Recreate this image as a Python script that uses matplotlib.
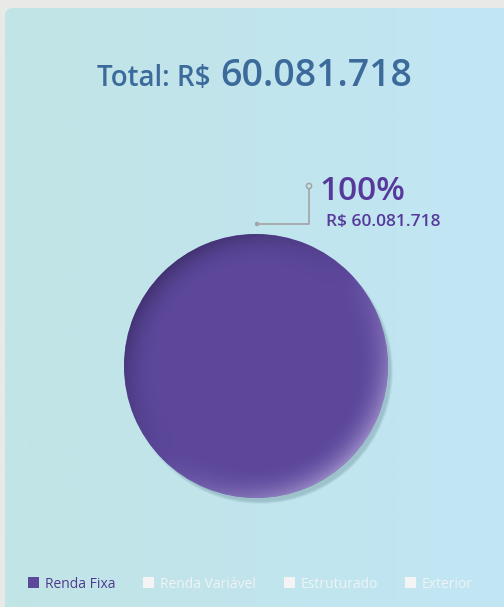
import numpy as np
import matplotlib
matplotlib.use('Agg')
from matplotlib import pyplot as plt
from matplotlib.patches import FancyBboxPatch, Circle, Rectangle

# -------------------------------
# Data
# -------------------------------
categories = ['Renda Fixa', 'Renda Variável', 'Estruturado', 'Exterior']
values = [60081718, 0, 0, 0]
total_label = '60.081.718'
cat_colors = ['#5c479b', '#f4f4f4', '#f4f4f4', '#f4f4f4']
legend_text_colors = ['#4f3a8f', '#eef3f5', '#eef3f5', '#eef3f5']

plt.rcParams['font.family'] = ['Open Sans', 'DejaVu Sans']

W, H = 504, 607
cx, cy, r = 256, 366, 132

fig = plt.figure(figsize=(W / 100, H / 100), dpi=100)
fig.patch.set_facecolor('#e9e9e8')
ax = fig.add_axes([0, 0, 1, 1])

# -------------------------------
# Pie (drawn first: pie() resets the limits)
# -------------------------------
wedges, _ = ax.pie(values, colors=cat_colors, center=(cx, cy), radius=r,
                   startangle=90, counterclock=False,
                   wedgeprops=dict(linewidth=0))
for w in wedges:
    w.set_zorder(2)

ax.set_xlim(0, W)
ax.set_ylim(H, 0)
ax.set_aspect('equal')
ax.axis('off')

# -------------------------------
# Panel with horizontal gradient
# -------------------------------
panel = FancyBboxPatch((5, 8), W - 5 + 20, H - 8 + 20,
                       boxstyle='round,pad=0,rounding_size=8',
                       facecolor='none', edgecolor='none')
ax.add_patch(panel)
grad = np.linspace(0, 1, 256).reshape(1, -1)
c0 = np.array([0xc1, 0xe4, 0xe6]) / 255
c1 = np.array([0xc1, 0xe6, 0xf4]) / 255
img = c0[None, None, :] * (1 - grad[..., None]) + c1[None, None, :] * grad[..., None]
im = ax.imshow(img, extent=(5, W, H, 8), aspect='auto', zorder=0)
im.set_clip_path(panel)
ax.set_xlim(0, W)
ax.set_ylim(H, 0)

# -------------------------------
# Title
# -------------------------------
t1 = ax.text(97, 86, 'Total: R$ ', fontsize=20, fontweight='semibold',
             color='#3c6b9b', ha='left', va='baseline')
fig.canvas.draw()
bb = t1.get_window_extent()
ax.annotate(total_label, xy=(bb.x1 + 2, 86), xycoords=('figure pixels', 'data'),
            fontsize=27, fontweight='semibold', color='#3c6b9b',
            ha='left', va='baseline')

# -------------------------------
# Shadow
# -------------------------------
for k in range(6):
    ax.add_patch(Circle((cx + 4, cy + 5), r + 1 - k * 0.5, facecolor='#4a6f78',
                        alpha=0.05, edgecolor='none', zorder=1))

# shading: darker at top-left rim, lighter at bottom-right rim
yy, xx = np.mgrid[-1:1:400j, -1:1:400j]
rr = np.sqrt(xx ** 2 + yy ** 2)
rim = np.clip((rr - 0.76) / 0.24, 0, 1) ** 1.8
direction = (xx + yy) / np.sqrt(2)
shade = np.zeros((400, 400, 4))
light = direction > 0
shade[..., :3] = np.where(light[..., None], np.array([0.72, 0.66, 0.86]), np.array([0.2, 0.15, 0.35]))
shade[..., 3] = rim * np.abs(direction) * 0.65
sim = ax.imshow(shade, extent=(cx - r, cx + r, cy + r, cy - r), zorder=3)
sim.set_clip_path(wedges[0])
ax.set_xlim(0, W)
ax.set_ylim(H, 0)

# -------------------------------
# Label with leader line
# -------------------------------
ax.plot([257, 309, 309], [224, 224, 189], color='#a3a3a3', lw=1.2, zorder=4)
ax.add_patch(Circle((257, 224), 2.2, facecolor='#a3a3a3', edgecolor='none', zorder=5))
ax.add_patch(Circle((309, 186), 2.6, facecolor='#c4e6ee', edgecolor='#a3a3a3', lw=1.1, zorder=5))
pct = values[0] / sum(values) * 100
ax.text(320, 200, f'{pct:.0f}%', fontsize=24, fontweight='semibold', color='#56399b',
        ha='left', va='baseline', zorder=5)
ax.text(326, 226, 'R$ ' + total_label, fontsize=12.5, fontweight='semibold', color='#56399b',
        ha='left', va='baseline', zorder=5)

# -------------------------------
# Legend
# -------------------------------
leg_x = [28, 143, 284, 405]
for x0, name, col, tcol in zip(leg_x, categories, cat_colors, legend_text_colors):
    ax.add_patch(Rectangle((x0, 577), 11, 11, facecolor=col, edgecolor='none', zorder=5))
    ax.text(x0 + 17, 588, name, fontsize=10, color=tcol, ha='left', va='baseline', zorder=5)

fig.savefig('out.png', dpi=100, facecolor=fig.get_facecolor())
